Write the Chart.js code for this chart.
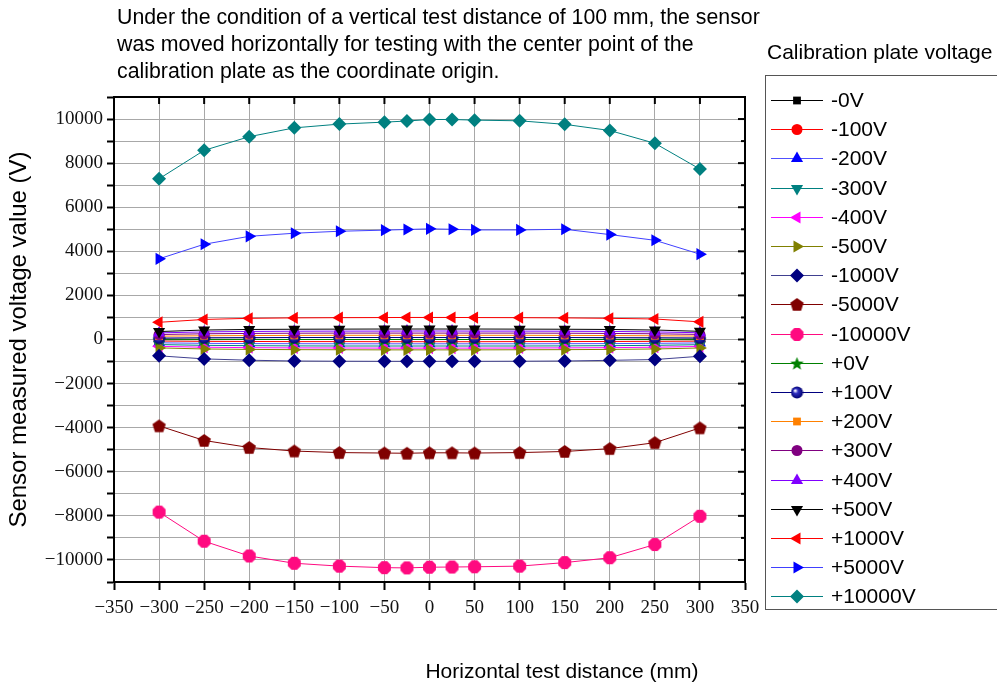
<!DOCTYPE html>
<html>
<head>
<meta charset="utf-8">
<script src="https://cdn.jsdelivr.net/npm/chart.js@4.4.1/dist/chart.umd.min.js"></script>
<style>
  body { margin: 0; background: #fff; }
  #wrap { position: relative; width: 997px; height: 689px; overflow: hidden; font-family: "Liberation Sans", Arial, sans-serif; color: #000; }
  #myChart { position: absolute; left: 0; top: 0; }
  #heading { position: absolute; left: 117px; top: 4px; font-size: 21.3px; line-height: 27px; }
  #legendTitle { position: absolute; left: 767px; top: 40px; font-size: 21px; }
  #legendBox { position: absolute; left: 765px; top: 75px; width: 240px; height: 535px; border: 1px solid #555; box-sizing: border-box; }
  .item { position: absolute; left: 2px; height: 24px; font-size: 21px; line-height: 24px; white-space: nowrap; }
  .item canvas { position: absolute; left: 0; top: 1px; }
  .item span { position: absolute; left: 63px; top: 0; }
  #xTitle { position: absolute; left: 0; width: 1124px; top: 659px; text-align: center; font-size: 21px; }
</style>
</head>
<body>
<div id="wrap">
  <canvas id="myChart" width="997" height="689"></canvas>
  <div id="heading">Under the condition of a vertical test distance of 100 mm, the sensor<br>was moved horizontally for testing with the center point of the<br>calibration plate as the coordinate origin.</div>
  <div id="legendTitle">Calibration plate voltage</div>
  <div id="legendBox"></div>
  <div id="xTitle">Horizontal test distance (mm)</div>
</div>
<script>
// horizontal positions (mm)
const positions = [-300, -250, -200, -150, -100, -50, -25, 0, 25, 50, 100, 150, 200, 250, 300];

const seriesNames = ['-0V', '-100V', '-200V', '-300V', '-400V', '-500V', '-1000V', '-5000V', '-10000V',
                     '+0V', '+100V', '+200V', '+300V', '+400V', '+500V', '+1000V', '+5000V', '+10000V'];

// measured sensor voltage (V)
const neg0     = [20, 10, 5, 0, 0, 0, 0, 0, 0, 0, 0, 0, 5, 10, 20];
const neg100   = [-70, -85, -90, -95, -95, -100, -100, -100, -100, -100, -95, -95, -90, -85, -75];
const neg200   = [-150, -175, -185, -190, -195, -195, -195, -195, -195, -195, -195, -190, -185, -175, -155];
const neg300   = [-230, -265, -280, -290, -295, -295, -295, -295, -295, -295, -295, -290, -280, -265, -235];
const neg400   = [-310, -350, -370, -380, -385, -390, -390, -390, -390, -390, -385, -380, -370, -350, -315];
const neg500   = [-380, -430, -450, -460, -465, -470, -470, -470, -470, -470, -465, -460, -450, -430, -385];
const neg1000  = [-740, -880, -940, -975, -985, -990, -990, -990, -990, -990, -985, -975, -945, -910, -760];
const neg5000  = [-3920, -4580, -4900, -5060, -5130, -5150, -5160, -5140, -5140, -5150, -5130, -5080, -4950, -4680, -4010];
const neg10000 = [-7830, -9150, -9820, -10150, -10280, -10350, -10360, -10330, -10320, -10310, -10280, -10120, -9900, -9300, -8020];
const pos0     = [-10, -5, 0, 0, 0, 0, 0, 0, 0, 0, 0, 0, 0, -5, -10];
const pos100   = [65, 80, 85, 90, 90, 90, 90, 90, 90, 90, 90, 90, 85, 80, 70];
const pos200   = [150, 170, 180, 185, 190, 190, 190, 190, 190, 190, 190, 185, 180, 170, 155];
const pos300   = [225, 260, 275, 285, 290, 290, 290, 290, 290, 290, 290, 285, 275, 260, 230];
const pos400   = [300, 345, 365, 375, 380, 380, 385, 385, 385, 380, 380, 375, 365, 345, 305];
const pos500   = [360, 430, 455, 465, 470, 475, 475, 475, 475, 475, 470, 465, 455, 430, 370];
const pos1000  = [780, 910, 960, 980, 990, 995, 1000, 1000, 1000, 995, 990, 980, 960, 930, 800];
const pos5000  = [3660, 4320, 4680, 4820, 4910, 4960, 4990, 5020, 5000, 4970, 4970, 5000, 4760, 4500, 3870];
const pos10000 = [7290, 8580, 9200, 9600, 9770, 9860, 9910, 9980, 9980, 9950, 9920, 9760, 9480, 8900, 7730];

const seriesValues = [neg0, neg100, neg200, neg300, neg400, neg500, neg1000, neg5000, neg10000,
                      pos0, pos100, pos200, pos300, pos400, pos500, pos1000, pos5000, pos10000];

// small canvases for markers Chart.js has no built-in style for
function shape(color, draw, size) {
    const c = document.createElement('canvas');
    c.width = size; c.height = size;
    const g = c.getContext('2d');
    g.fillStyle = color;
    draw(g, size / 2, size / 2);
    return c;
}
function polygon(g, cx, cy, r, n, rot, inner) {
    g.beginPath();
    const pts = inner ? n * 2 : n;
    for (let i = 0; i < pts; i++) {
        const a = rot + i * Math.PI * 2 / pts;
        const rr = inner && i % 2 ? inner : r;
        const x = cx + rr * Math.cos(a), y = cy + rr * Math.sin(a);
        i ? g.lineTo(x, y) : g.moveTo(x, y);
    }
    g.closePath();
    g.fill();
}
const pentagon = shape('#800000', (g, cx, cy) => polygon(g, cx, cy + 0.5, 7, 5, -Math.PI / 2), 15);
const octagon = shape('#ff0a80', (g, cx, cy) => polygon(g, cx, cy, 7, 8, Math.PI / 8), 15);
const star = shape('#008000', (g, cx, cy) => polygon(g, cx, cy + 0.5, 7, 5, -Math.PI / 2, 3), 15);
const sphere = shape('#000080', (g, cx, cy) => {
    const grad = g.createRadialGradient(cx - 2, cy - 2, 0.5, cx, cy, 6);
    grad.addColorStop(0, '#ffffff');
    grad.addColorStop(0.35, '#3030c0');
    grad.addColorStop(1, '#000070');
    g.fillStyle = grad;
    g.beginPath(); g.arc(cx, cy, 6, 0, Math.PI * 2); g.fill();
}, 13);

const lineColors = ['#000000', '#ff0000', '#5050ff', '#008080', '#ff00ff', '#808000', '#404090', '#800000', '#ff0a80',
                    '#008000', '#000080', '#ff8000', '#800080', '#8000ff', '#000000', '#ff0000', '#4040ff', '#008080'];
const markColors = ['#000000', '#ff0000', '#0000ff', '#008080', '#ff00ff', '#808000', '#000080', '#800000', '#ff0a80',
                    '#008000', '#000080', '#ff8000', '#800080', '#8000ff', '#000000', '#ff0000', '#0000ff', '#008080'];
const markStyles = ['rect', 'circle', 'triangle', 'triangle', 'triangle', 'triangle', 'rectRot', pentagon, octagon,
                    star, sphere, 'rect', 'circle', 'triangle', 'triangle', 'triangle', 'triangle', 'rectRot'];
const markRot = [0, 0, 0, 180, -90, 90, 0, 0, 0, 0, 0, 0, 0, 0, 180, -90, 90, 0];
const markSize = [5.5, 5.5, 7, 7, 7, 7, 7, 7, 7, 7, 6, 5.5, 5.5, 7, 7, 7, 7, 7];

const datasets = seriesNames.map((name, i) => ({
    label: name,
    data: positions.map((x, j) => ({ x: x, y: seriesValues[i][j] })),
    borderColor: lineColors[i],
    backgroundColor: markColors[i],
    borderWidth: 1,
    pointStyle: markStyles[i],
    rotation: markRot[i],
    pointRadius: markSize[i],
    pointBorderWidth: 0,
    pointBorderColor: markColors[i],
    order: 18 - i
}));

const frame = {
    id: 'frame',
    afterDraw(chart) {
        const { ctx, chartArea: a, scales } = chart;
        ctx.save();
        ctx.strokeStyle = '#000';
        ctx.lineWidth = 2;
        ctx.beginPath();
        ctx.moveTo(a.left, a.top); ctx.lineTo(a.right, a.top); ctx.lineTo(a.right, a.bottom);
        ctx.stroke();
        scales.x.ticks.forEach(t => {
            const px = scales.x.getPixelForValue(t.value);
            ctx.beginPath(); ctx.moveTo(px, a.top); ctx.lineTo(px, a.top + 7); ctx.stroke();
        });
        scales.y.ticks.forEach(t => {
            const py = scales.y.getPixelForValue(t.value);
            const len = t.value % 2000 === 0 ? 7 : 4;
            ctx.beginPath(); ctx.moveTo(a.right, py); ctx.lineTo(a.right - len, py); ctx.stroke();
        });
        ctx.restore();
    }
};

const tickFont = { family: '"Liberation Serif", "DejaVu Serif", serif', size: 19 };
const minus = v => String(v).replace('-', '\u2212');

const ctx = document.getElementById('myChart').getContext('2d');
const myChart = new Chart(ctx, {
    type: 'line',
    data: { datasets: datasets },
    options: {
        responsive: false,
        animation: false,
        layout: { padding: { top: 97, right: 252, left: 0, bottom: 57 } },
        plugins: { legend: { display: false }, tooltip: { enabled: false } },
        scales: {
            x: {
                type: 'linear',
                min: -350, max: 350,
                ticks: { stepSize: 50, autoSkip: false, color: '#111', font: tickFont, padding: 7, maxRotation: 0, callback: v => minus(v) },
                grid: { color: '#a8a8a8', lineWidth: 1, tickLength: 8, tickColor: '#000', tickWidth: 2 },
                border: { color: '#000', width: 2 },
                afterFit: s => { s.height = 50; }
            },
            y: {
                min: -11000, max: 11000,
                ticks: { stepSize: 1000, autoSkip: false, color: '#111', font: tickFont, padding: 4,
                         callback: v => (v % 2000 === 0 ? minus(v) : '') },
                grid: { color: '#a8a8a8', lineWidth: 1, tickLength: 7, tickColor: '#000', tickWidth: 2 },
                border: { color: '#000', width: 2 },
                title: { display: true, text: 'Sensor measured voltage value (V)', color: '#000',
                         font: { family: '"Liberation Sans", Arial, sans-serif', size: 24 }, padding: { top: 5, bottom: 0 } },
                afterFit: s => { s.width = 114; }
            }
        }
    },
    plugins: [frame]
});

// legend with line + marker samples
const box = document.getElementById('legendBox');
datasets.forEach((d, i) => {
    const item = document.createElement('div');
    item.className = 'item';
    item.style.top = (12 + i * 29.2) + 'px';
    const c = document.createElement('canvas');
    c.width = 58; c.height = 22;
    const g = c.getContext('2d');
    g.strokeStyle = d.borderColor; g.lineWidth = 1;
    g.beginPath(); g.moveTo(3, 11.5); g.lineTo(55, 11.5); g.stroke();
    g.fillStyle = d.backgroundColor; g.strokeStyle = d.backgroundColor;
    Chart.helpers.drawPoint(g, { pointStyle: d.pointStyle, rotation: d.rotation, radius: d.pointRadius, borderWidth: 0 }, 29, 11.5);
    const s = document.createElement('span');
    s.textContent = d.label;
    item.appendChild(c); item.appendChild(s);
    box.appendChild(item);
});
</script>
</body>
</html>
